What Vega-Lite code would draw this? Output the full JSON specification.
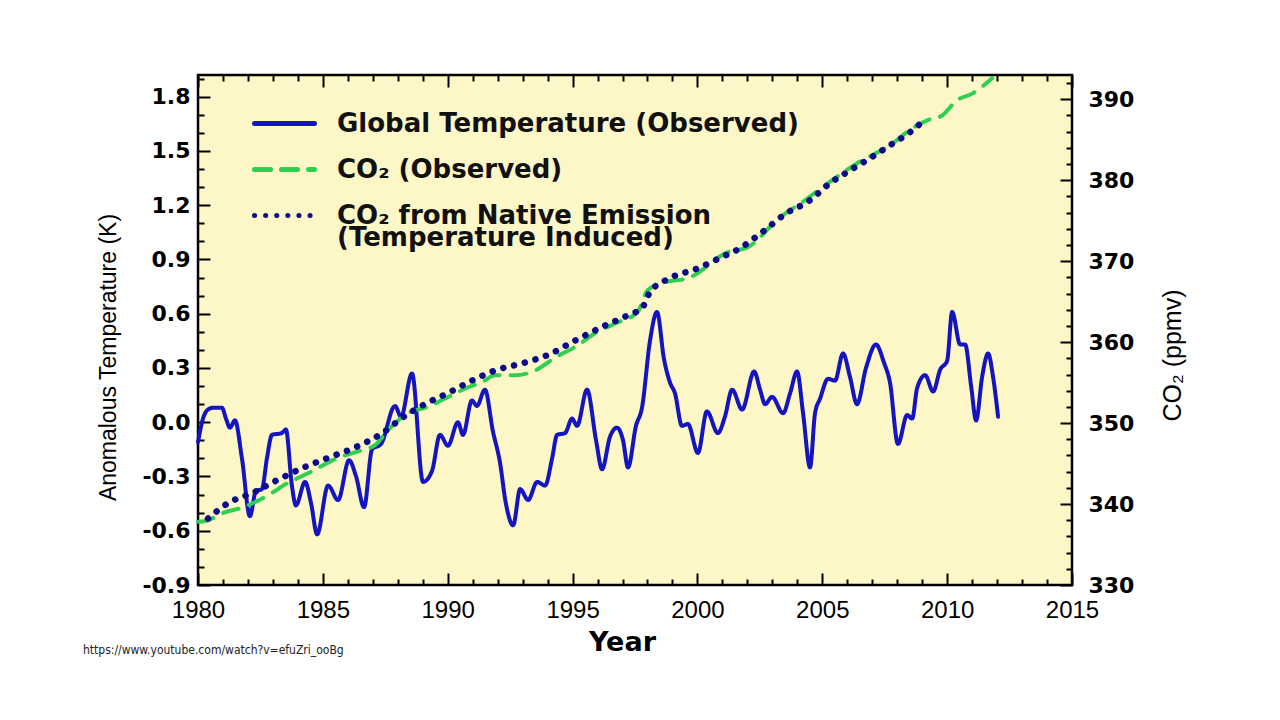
{
  "$schema": "https://vega.github.io/schema/vega-lite/v6.json",
  "width": 874,
  "height": 510,
  "autosize": {"type": "none"},
  "padding": {"left": 198, "top": 75, "right": 208, "bottom": 135},
  "background": "white",
  "config": {
    "view": {"fill": "#fdf6c6", "stroke": "black", "strokeWidth": 2.5}
  },
  "title": {
    "text": "https://www.youtube.com/watch?v=efuZri_ooBg",
    "orient": "bottom",
    "anchor": "start",
    "frame": "group",
    "dx": -115,
    "offset": -10,
    "font": "DejaVu Sans Condensed, Liberation Sans, sans-serif",
    "fontSize": 12,
    "fontWeight": "normal",
    "color": "#222222"
  },
  "datasets": {
    "temp": [
      {"year": 1980.00, "value": -0.11, "series": "Global Temperature (Observed)"},
      {"year": 1980.20, "value": 0.02, "series": "Global Temperature (Observed)"},
      {"year": 1980.40, "value": 0.07, "series": "Global Temperature (Observed)"},
      {"year": 1980.60, "value": 0.08, "series": "Global Temperature (Observed)"},
      {"year": 1980.96, "value": 0.08, "series": "Global Temperature (Observed)"},
      {"year": 1981.12, "value": 0.02, "series": "Global Temperature (Observed)"},
      {"year": 1981.28, "value": -0.03, "series": "Global Temperature (Observed)"},
      {"year": 1981.48, "value": 0.01, "series": "Global Temperature (Observed)"},
      {"year": 1981.76, "value": -0.20, "series": "Global Temperature (Observed)"},
      {"year": 1982.08, "value": -0.52, "series": "Global Temperature (Observed)"},
      {"year": 1982.32, "value": -0.38, "series": "Global Temperature (Observed)"},
      {"year": 1982.56, "value": -0.37, "series": "Global Temperature (Observed)"},
      {"year": 1982.76, "value": -0.20, "series": "Global Temperature (Observed)"},
      {"year": 1982.96, "value": -0.07, "series": "Global Temperature (Observed)"},
      {"year": 1983.36, "value": -0.06, "series": "Global Temperature (Observed)"},
      {"year": 1983.52, "value": -0.04, "series": "Global Temperature (Observed)"},
      {"year": 1983.76, "value": -0.35, "series": "Global Temperature (Observed)"},
      {"year": 1983.92, "value": -0.46, "series": "Global Temperature (Observed)"},
      {"year": 1984.29, "value": -0.33, "series": "Global Temperature (Observed)"},
      {"year": 1984.53, "value": -0.45, "series": "Global Temperature (Observed)"},
      {"year": 1984.77, "value": -0.62, "series": "Global Temperature (Observed)"},
      {"year": 1985.21, "value": -0.35, "series": "Global Temperature (Observed)"},
      {"year": 1985.61, "value": -0.43, "series": "Global Temperature (Observed)"},
      {"year": 1986.05, "value": -0.21, "series": "Global Temperature (Observed)"},
      {"year": 1986.33, "value": -0.30, "series": "Global Temperature (Observed)"},
      {"year": 1986.65, "value": -0.47, "series": "Global Temperature (Observed)"},
      {"year": 1986.97, "value": -0.15, "series": "Global Temperature (Observed)"},
      {"year": 1987.33, "value": -0.12, "series": "Global Temperature (Observed)"},
      {"year": 1987.89, "value": 0.09, "series": "Global Temperature (Observed)"},
      {"year": 1988.13, "value": 0.03, "series": "Global Temperature (Observed)"},
      {"year": 1988.57, "value": 0.27, "series": "Global Temperature (Observed)"},
      {"year": 1989.01, "value": -0.33, "series": "Global Temperature (Observed)"},
      {"year": 1989.37, "value": -0.27, "series": "Global Temperature (Observed)"},
      {"year": 1989.69, "value": -0.07, "series": "Global Temperature (Observed)"},
      {"year": 1990.01, "value": -0.13, "series": "Global Temperature (Observed)"},
      {"year": 1990.41, "value": 0.00, "series": "Global Temperature (Observed)"},
      {"year": 1990.61, "value": -0.07, "series": "Global Temperature (Observed)"},
      {"year": 1990.97, "value": 0.12, "series": "Global Temperature (Observed)"},
      {"year": 1991.17, "value": 0.09, "series": "Global Temperature (Observed)"},
      {"year": 1991.49, "value": 0.18, "series": "Global Temperature (Observed)"},
      {"year": 1991.81, "value": -0.05, "series": "Global Temperature (Observed)"},
      {"year": 1992.09, "value": -0.22, "series": "Global Temperature (Observed)"},
      {"year": 1992.33, "value": -0.45, "series": "Global Temperature (Observed)"},
      {"year": 1992.62, "value": -0.57, "series": "Global Temperature (Observed)"},
      {"year": 1992.90, "value": -0.37, "series": "Global Temperature (Observed)"},
      {"year": 1993.22, "value": -0.43, "series": "Global Temperature (Observed)"},
      {"year": 1993.58, "value": -0.33, "series": "Global Temperature (Observed)"},
      {"year": 1993.90, "value": -0.35, "series": "Global Temperature (Observed)"},
      {"year": 1994.18, "value": -0.20, "series": "Global Temperature (Observed)"},
      {"year": 1994.38, "value": -0.07, "series": "Global Temperature (Observed)"},
      {"year": 1994.70, "value": -0.06, "series": "Global Temperature (Observed)"},
      {"year": 1994.98, "value": 0.02, "series": "Global Temperature (Observed)"},
      {"year": 1995.18, "value": -0.02, "series": "Global Temperature (Observed)"},
      {"year": 1995.58, "value": 0.18, "series": "Global Temperature (Observed)"},
      {"year": 1995.94, "value": -0.10, "series": "Global Temperature (Observed)"},
      {"year": 1996.18, "value": -0.26, "series": "Global Temperature (Observed)"},
      {"year": 1996.50, "value": -0.08, "series": "Global Temperature (Observed)"},
      {"year": 1996.78, "value": -0.03, "series": "Global Temperature (Observed)"},
      {"year": 1997.02, "value": -0.10, "series": "Global Temperature (Observed)"},
      {"year": 1997.22, "value": -0.25, "series": "Global Temperature (Observed)"},
      {"year": 1997.54, "value": -0.02, "series": "Global Temperature (Observed)"},
      {"year": 1997.78, "value": 0.08, "series": "Global Temperature (Observed)"},
      {"year": 1998.10, "value": 0.45, "series": "Global Temperature (Observed)"},
      {"year": 1998.38, "value": 0.61, "series": "Global Temperature (Observed)"},
      {"year": 1998.66, "value": 0.35, "series": "Global Temperature (Observed)"},
      {"year": 1998.90, "value": 0.22, "series": "Global Temperature (Observed)"},
      {"year": 1999.10, "value": 0.16, "series": "Global Temperature (Observed)"},
      {"year": 1999.38, "value": -0.02, "series": "Global Temperature (Observed)"},
      {"year": 1999.62, "value": -0.01, "series": "Global Temperature (Observed)"},
      {"year": 2000.02, "value": -0.17, "series": "Global Temperature (Observed)"},
      {"year": 2000.38, "value": 0.06, "series": "Global Temperature (Observed)"},
      {"year": 2000.82, "value": -0.06, "series": "Global Temperature (Observed)"},
      {"year": 2001.10, "value": 0.03, "series": "Global Temperature (Observed)"},
      {"year": 2001.39, "value": 0.18, "series": "Global Temperature (Observed)"},
      {"year": 2001.79, "value": 0.07, "series": "Global Temperature (Observed)"},
      {"year": 2002.27, "value": 0.28, "series": "Global Temperature (Observed)"},
      {"year": 2002.51, "value": 0.18, "series": "Global Temperature (Observed)"},
      {"year": 2002.71, "value": 0.10, "series": "Global Temperature (Observed)"},
      {"year": 2002.99, "value": 0.14, "series": "Global Temperature (Observed)"},
      {"year": 2003.43, "value": 0.05, "series": "Global Temperature (Observed)"},
      {"year": 2003.71, "value": 0.16, "series": "Global Temperature (Observed)"},
      {"year": 2003.99, "value": 0.28, "series": "Global Temperature (Observed)"},
      {"year": 2004.23, "value": 0.05, "series": "Global Temperature (Observed)"},
      {"year": 2004.51, "value": -0.25, "series": "Global Temperature (Observed)"},
      {"year": 2004.71, "value": 0.05, "series": "Global Temperature (Observed)"},
      {"year": 2004.91, "value": 0.13, "series": "Global Temperature (Observed)"},
      {"year": 2005.23, "value": 0.24, "series": "Global Temperature (Observed)"},
      {"year": 2005.51, "value": 0.23, "series": "Global Temperature (Observed)"},
      {"year": 2005.83, "value": 0.38, "series": "Global Temperature (Observed)"},
      {"year": 2006.11, "value": 0.25, "series": "Global Temperature (Observed)"},
      {"year": 2006.39, "value": 0.10, "series": "Global Temperature (Observed)"},
      {"year": 2006.75, "value": 0.30, "series": "Global Temperature (Observed)"},
      {"year": 2007.15, "value": 0.43, "series": "Global Temperature (Observed)"},
      {"year": 2007.47, "value": 0.33, "series": "Global Temperature (Observed)"},
      {"year": 2007.71, "value": 0.22, "series": "Global Temperature (Observed)"},
      {"year": 2008.03, "value": -0.12, "series": "Global Temperature (Observed)"},
      {"year": 2008.40, "value": 0.04, "series": "Global Temperature (Observed)"},
      {"year": 2008.60, "value": 0.02, "series": "Global Temperature (Observed)"},
      {"year": 2008.80, "value": 0.19, "series": "Global Temperature (Observed)"},
      {"year": 2009.12, "value": 0.26, "series": "Global Temperature (Observed)"},
      {"year": 2009.44, "value": 0.17, "series": "Global Temperature (Observed)"},
      {"year": 2009.72, "value": 0.29, "series": "Global Temperature (Observed)"},
      {"year": 2010.00, "value": 0.34, "series": "Global Temperature (Observed)"},
      {"year": 2010.20, "value": 0.61, "series": "Global Temperature (Observed)"},
      {"year": 2010.52, "value": 0.43, "series": "Global Temperature (Observed)"},
      {"year": 2010.72, "value": 0.43, "series": "Global Temperature (Observed)"},
      {"year": 2010.96, "value": 0.20, "series": "Global Temperature (Observed)"},
      {"year": 2011.16, "value": 0.01, "series": "Global Temperature (Observed)"},
      {"year": 2011.40, "value": 0.25, "series": "Global Temperature (Observed)"},
      {"year": 2011.64, "value": 0.38, "series": "Global Temperature (Observed)"},
      {"year": 2011.84, "value": 0.25, "series": "Global Temperature (Observed)"},
      {"year": 2012.04, "value": 0.03, "series": "Global Temperature (Observed)"}
    ],
    "co2obs": [
      {"year": 1980.0, "value": 337.8, "series": "CO₂ (Observed)"},
      {"year": 1980.3, "value": 337.9, "series": "CO₂ (Observed)"},
      {"year": 1981.0, "value": 338.9, "series": "CO₂ (Observed)"},
      {"year": 1981.8, "value": 339.6, "series": "CO₂ (Observed)"},
      {"year": 1982.7, "value": 340.9, "series": "CO₂ (Observed)"},
      {"year": 1983.6, "value": 342.6, "series": "CO₂ (Observed)"},
      {"year": 1984.4, "value": 343.8, "series": "CO₂ (Observed)"},
      {"year": 1985.6, "value": 345.7, "series": "CO₂ (Observed)"},
      {"year": 1986.6, "value": 346.7, "series": "CO₂ (Observed)"},
      {"year": 1987.1, "value": 347.3, "series": "CO₂ (Observed)"},
      {"year": 1987.6, "value": 349.1, "series": "CO₂ (Observed)"},
      {"year": 1988.4, "value": 351.2, "series": "CO₂ (Observed)"},
      {"year": 1989.2, "value": 352.0, "series": "CO₂ (Observed)"},
      {"year": 1990.0, "value": 353.2, "series": "CO₂ (Observed)"},
      {"year": 1990.8, "value": 354.4, "series": "CO₂ (Observed)"},
      {"year": 1991.4, "value": 355.1, "series": "CO₂ (Observed)"},
      {"year": 1991.9, "value": 355.9, "series": "CO₂ (Observed)"},
      {"year": 1992.7, "value": 355.9, "series": "CO₂ (Observed)"},
      {"year": 1993.5, "value": 356.5, "series": "CO₂ (Observed)"},
      {"year": 1994.3, "value": 358.1, "series": "CO₂ (Observed)"},
      {"year": 1995.1, "value": 359.4, "series": "CO₂ (Observed)"},
      {"year": 1995.9, "value": 361.1, "series": "CO₂ (Observed)"},
      {"year": 1996.7, "value": 362.3, "series": "CO₂ (Observed)"},
      {"year": 1997.6, "value": 363.7, "series": "CO₂ (Observed)"},
      {"year": 1998.0, "value": 366.4, "series": "CO₂ (Observed)"},
      {"year": 1998.6, "value": 367.3, "series": "CO₂ (Observed)"},
      {"year": 1999.7, "value": 368.0, "series": "CO₂ (Observed)"},
      {"year": 2001.2, "value": 371.1, "series": "CO₂ (Observed)"},
      {"year": 2002.0, "value": 371.7, "series": "CO₂ (Observed)"},
      {"year": 2003.3, "value": 375.4, "series": "CO₂ (Observed)"},
      {"year": 2004.2, "value": 377.3, "series": "CO₂ (Observed)"},
      {"year": 2005.3, "value": 379.8, "series": "CO₂ (Observed)"},
      {"year": 2006.4, "value": 382.1, "series": "CO₂ (Observed)"},
      {"year": 2007.7, "value": 384.3, "series": "CO₂ (Observed)"},
      {"year": 2008.6, "value": 386.4, "series": "CO₂ (Observed)"},
      {"year": 2009.2, "value": 387.4, "series": "CO₂ (Observed)"},
      {"year": 2009.8, "value": 388.0, "series": "CO₂ (Observed)"},
      {"year": 2010.4, "value": 389.9, "series": "CO₂ (Observed)"},
      {"year": 2011.0, "value": 390.7, "series": "CO₂ (Observed)"},
      {"year": 2011.8, "value": 392.6, "series": "CO₂ (Observed)"}
    ],
    "co2native": [
      {"year": 1980.4, "value": 338.2, "series": "CO₂ from Native Emission"},
      {"year": 1981.2, "value": 340.1, "series": "CO₂ from Native Emission"},
      {"year": 1982.2, "value": 341.4, "series": "CO₂ from Native Emission"},
      {"year": 1983.2, "value": 343.0, "series": "CO₂ from Native Emission"},
      {"year": 1984.3, "value": 344.6, "series": "CO₂ from Native Emission"},
      {"year": 1985.2, "value": 345.7, "series": "CO₂ from Native Emission"},
      {"year": 1986.3, "value": 347.0, "series": "CO₂ from Native Emission"},
      {"year": 1987.4, "value": 348.8, "series": "CO₂ from Native Emission"},
      {"year": 1988.2, "value": 350.7, "series": "CO₂ from Native Emission"},
      {"year": 1989.0, "value": 352.2, "series": "CO₂ from Native Emission"},
      {"year": 1990.0, "value": 353.7, "series": "CO₂ from Native Emission"},
      {"year": 1991.0, "value": 355.3, "series": "CO₂ from Native Emission"},
      {"year": 1991.9, "value": 356.5, "series": "CO₂ from Native Emission"},
      {"year": 1993.0, "value": 357.4, "series": "CO₂ from Native Emission"},
      {"year": 1994.0, "value": 358.4, "series": "CO₂ from Native Emission"},
      {"year": 1995.1, "value": 360.2, "series": "CO₂ from Native Emission"},
      {"year": 1996.2, "value": 361.9, "series": "CO₂ from Native Emission"},
      {"year": 1997.2, "value": 363.3, "series": "CO₂ from Native Emission"},
      {"year": 1997.8, "value": 364.3, "series": "CO₂ from Native Emission"},
      {"year": 1998.1, "value": 366.2, "series": "CO₂ from Native Emission"},
      {"year": 1998.9, "value": 367.9, "series": "CO₂ from Native Emission"},
      {"year": 2000.0, "value": 369.1, "series": "CO₂ from Native Emission"},
      {"year": 2000.9, "value": 370.4, "series": "CO₂ from Native Emission"},
      {"year": 2001.7, "value": 371.6, "series": "CO₂ from Native Emission"},
      {"year": 2002.6, "value": 373.6, "series": "CO₂ from Native Emission"},
      {"year": 2003.6, "value": 376.0, "series": "CO₂ from Native Emission"},
      {"year": 2004.4, "value": 377.3, "series": "CO₂ from Native Emission"},
      {"year": 2005.3, "value": 379.6, "series": "CO₂ from Native Emission"},
      {"year": 2006.1, "value": 381.2, "series": "CO₂ from Native Emission"},
      {"year": 2006.9, "value": 382.7, "series": "CO₂ from Native Emission"},
      {"year": 2007.7, "value": 384.3, "series": "CO₂ from Native Emission"},
      {"year": 2008.5, "value": 385.9, "series": "CO₂ from Native Emission"},
      {"year": 2009.0, "value": 387.2, "series": "CO₂ from Native Emission"}
    ]
  },
  "layer": [
    {
      "data": {"name": "temp"},
      "mark": {"type": "line", "interpolate": "monotone", "strokeWidth": 4, "strokeCap": "round", "strokeJoin": "round"},
      "encoding": {
        "x": {
          "field": "year", "type": "quantitative",
          "scale": {"domain": [1980, 2015], "nice": false, "zero": false},
          "axis": {
            "orient": "bottom",
            "values": [1980,1981,1982,1983,1984,1985,1986,1987,1988,1989,1990,1991,1992,1993,1994,1995,1996,1997,1998,1999,2000,2001,2002,2003,2004,2005,2006,2007,2008,2009,2010,2011,2012,2013,2014,2015],
            "domain": false, "grid": false,
            "tickColor": "black", "tickWidth": 2,
            "tickSize": {"condition": {"test": "datum.value % 5 === 0", "value": -12}, "value": -6},
            "format": "d",
            "labelExpr": "datum.value % 5 === 0 ? datum.label : ''",
            "labelFont": "Liberation Sans", "labelFontSize": 24, "labelColor": "black",
            "labelPadding": 25, "labelOverlap": false, "labelFlush": false,
            "title": "Year",
            "titleFont": "DejaVu Sans", "titleFontWeight": "bold", "titleFontSize": 27, "titleColor": "black",
            "titleX": 424, "titleY": 65, "titleBaseline": "alphabetic"
          }
        },
        "y": {
          "field": "value", "type": "quantitative",
          "scale": {"domain": [-0.9, 1.92], "nice": false, "zero": false},
          "axis": {
            "orient": "left",
            "values": [-0.9,-0.8,-0.7,-0.6,-0.5,-0.4,-0.3,-0.2,-0.1,0,0.1,0.2,0.3,0.4,0.5,0.6,0.7,0.8,0.9,1.0,1.1,1.2,1.3,1.4,1.5,1.6,1.7,1.8,1.9],
            "domain": false, "grid": false,
            "tickColor": "black", "tickWidth": 2,
            "tickSize": {"condition": {"test": "abs(round(datum.value*10)) % 3 === 0", "value": -12}, "value": -6},
            "labelExpr": "abs(round(datum.value*10)) % 3 === 0 ? (datum.value < -0.001 ? '-' : '') + format(abs(datum.value), '.1f') : ''",
            "labelFont": "DejaVu Sans", "labelFontWeight": "bold", "labelFontSize": 22, "labelColor": "black",
            "labelPadding": 20, "labelOverlap": false, "labelFlush": false,
            "title": "Anomalous Temperature (K)",
            "titleFont": "Liberation Sans", "titleFontWeight": "normal", "titleFontSize": 23, "titleColor": "black",
            "titleX": -90, "titleY": 282, "titleBaseline": "middle", "titleAngle": -90
          }
        },
        "color": {
          "field": "series", "type": "nominal",
          "scale": {
            "domain": ["Global Temperature (Observed)", "CO₂ (Observed)", "CO₂ from Native Emission"],
            "range": ["#1414c0", "#2fcf52", "#0c0c8a"]
          },
          "legend": {
            "orient": "none", "legendX": 54, "legendY": 16, "padding": 0,
            "title": "(Temperature Induced)", "titleOrient": "bottom", "titleAnchor": "start", "titleBaseline": "top", "titlePadding": -4,
            "titleFont": "DejaVu Sans", "titleFontWeight": "bold", "titleFontSize": 26, "titleColor": "#111111", "titleLimit": 700,
            "symbolType": "stroke", "symbolSize": 3600, "symbolStrokeWidth": 5,
            "labelFont": "DejaVu Sans", "labelFontWeight": "bold", "labelFontSize": 26, "labelColor": "#111111",
            "labelOffset": 20, "rowPadding": 0, "labelLimit": 700,
            "encode": {"symbols": {"update": {"strokeCap": {"value": "round"}}}, "title": {"update": {"dx": {"value": 85}}}}
          }
        },
        "strokeDash": {
          "field": "series", "type": "nominal",
          "scale": {
            "domain": ["Global Temperature (Observed)", "CO₂ (Observed)", "CO₂ from Native Emission"],
            "range": [[1, 0], [16, 11], [0.1, 11]]
          },
          "legend": {
            "orient": "none", "legendX": 54, "legendY": 16, "padding": 0,
            "title": "(Temperature Induced)", "titleOrient": "bottom", "titleAnchor": "start", "titleBaseline": "top", "titlePadding": -4,
            "titleFont": "DejaVu Sans", "titleFontWeight": "bold", "titleFontSize": 26, "titleColor": "#111111", "titleLimit": 700,
            "symbolType": "stroke", "symbolSize": 3600, "symbolStrokeWidth": 5,
            "labelFont": "DejaVu Sans", "labelFontWeight": "bold", "labelFontSize": 26, "labelColor": "#111111",
            "labelOffset": 20, "rowPadding": 0, "labelLimit": 700,
            "encode": {"symbols": {"update": {"strokeCap": {"value": "round"}}}, "title": {"update": {"dx": {"value": 85}}}}
          }
        }
      }
    },
    {
      "data": {"name": "co2obs"},
      "mark": {"type": "line", "interpolate": "monotone", "strokeWidth": 4, "strokeCap": "round", "strokeJoin": "round"},
      "encoding": {
        "x": {
          "field": "year", "type": "quantitative",
          "scale": {"domain": [1980, 2015], "nice": false, "zero": false},
          "axis": {
            "orient": "top",
            "values": [1980,1981,1982,1983,1984,1985,1986,1987,1988,1989,1990,1991,1992,1993,1994,1995,1996,1997,1998,1999,2000,2001,2002,2003,2004,2005,2006,2007,2008,2009,2010,2011,2012,2013,2014,2015],
            "domain": false, "grid": false, "labels": false, "title": null,
            "tickColor": "black", "tickWidth": 2,
            "tickSize": {"condition": {"test": "datum.value % 5 === 0", "value": -12}, "value": -6}
          }
        },
        "y": {
          "field": "value", "type": "quantitative",
          "scale": {"domain": [330, 393], "nice": false, "zero": false},
          "axis": {
            "orient": "right",
            "values": [330,332,334,336,338,340,342,344,346,348,350,352,354,356,358,360,362,364,366,368,370,372,374,376,378,380,382,384,386,388,390,392],
            "domain": false, "grid": false,
            "tickColor": "black", "tickWidth": 2,
            "tickSize": {"condition": {"test": "datum.value % 10 === 0", "value": -12}, "value": -6},
            "labelExpr": "datum.value % 10 === 0 ? datum.label : ''",
            "labelFont": "DejaVu Sans", "labelFontWeight": "bold", "labelFontSize": 22, "labelColor": "black",
            "labelPadding": 28, "labelOverlap": false, "labelFlush": false,
            "title": "CO₂ (ppmv)",
            "titleFont": "Liberation Sans", "titleFontWeight": "normal", "titleFontSize": 25, "titleColor": "black",
            "titleX": 100, "titleY": 280, "titleBaseline": "middle", "titleAngle": -90
          }
        },
        "color": {
          "field": "series", "type": "nominal",
          "scale": {
            "domain": ["Global Temperature (Observed)", "CO₂ (Observed)", "CO₂ from Native Emission"],
            "range": ["#1414c0", "#2fcf52", "#0c0c8a"]
          }
        },
        "strokeDash": {
          "field": "series", "type": "nominal",
          "scale": {
            "domain": ["Global Temperature (Observed)", "CO₂ (Observed)", "CO₂ from Native Emission"],
            "range": [[1, 0], [16, 11], [0.1, 11]]
          }
        }
      }
    },
    {
      "data": {"name": "co2native"},
      "mark": {"type": "line", "interpolate": "monotone", "strokeWidth": 6.5, "strokeCap": "round", "strokeJoin": "round"},
      "encoding": {
        "x": {
          "field": "year", "type": "quantitative",
          "scale": {"domain": [1980, 2015], "nice": false, "zero": false},
          "axis": null
        },
        "y": {
          "field": "value", "type": "quantitative",
          "scale": {"domain": [330, 393], "nice": false, "zero": false},
          "axis": null
        },
        "color": {
          "field": "series", "type": "nominal",
          "scale": {
            "domain": ["Global Temperature (Observed)", "CO₂ (Observed)", "CO₂ from Native Emission"],
            "range": ["#1414c0", "#2fcf52", "#0c0c8a"]
          }
        },
        "strokeDash": {
          "field": "series", "type": "nominal",
          "scale": {
            "domain": ["Global Temperature (Observed)", "CO₂ (Observed)", "CO₂ from Native Emission"],
            "range": [[1, 0], [16, 11], [0.1, 11]]
          }
        }
      }
    }
  ],
  "resolve": {"scale": {"y": "independent"}, "axis": {"x": "independent"}}
}
